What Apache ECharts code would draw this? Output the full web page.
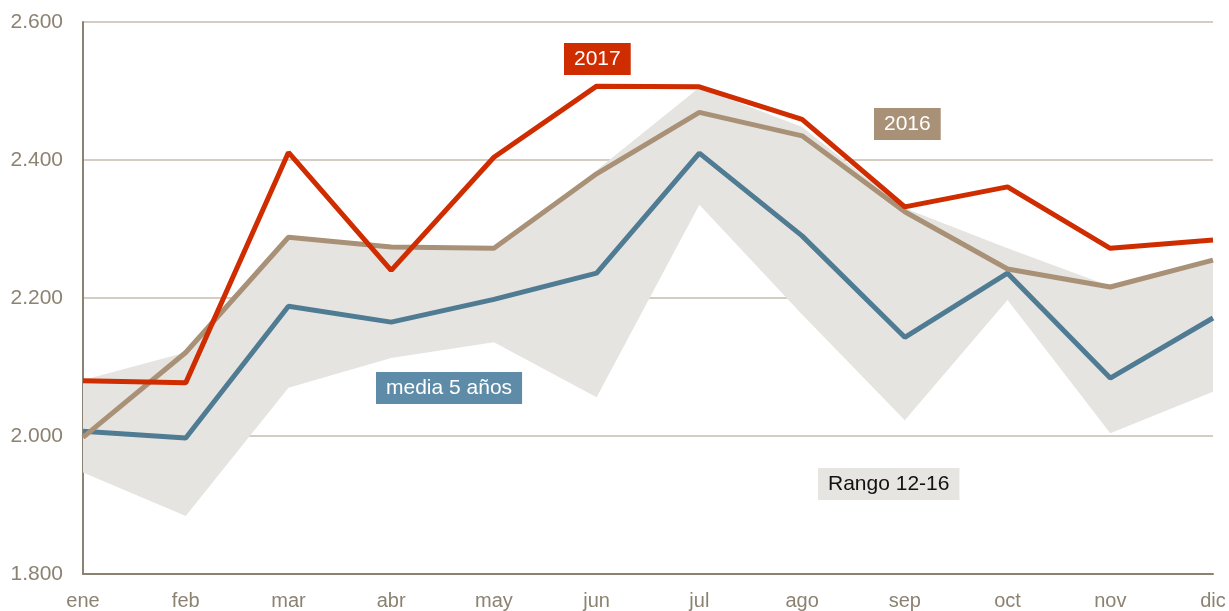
<!DOCTYPE html>
<html>
<head>
<meta charset="utf-8">
<script src="https://cdn.jsdelivr.net/npm/echarts@6/dist/echarts.min.js"></script>
<style>
  html, body { margin: 0; padding: 0; background: #fff; }
  #main { width: 1229px; height: 611px; }
</style>
</head>
<body>
<div id="main"></div>
<script>
var months = ['ene', 'feb', 'mar', 'abr', 'may', 'jun', 'jul', 'ago', 'sep', 'oct', 'nov', 'dic'];
var y2017 = [2080, 2077, 2411, 2240, 2404, 2507, 2506, 2459, 2332, 2361, 2272, 2284];
var y2016 = [1998, 2121, 2288, 2274, 2272, 2380, 2469, 2435, 2325, 2242, 2216, 2255];
var media5 = [2007, 1997, 2188, 2165, 2198, 2236, 2410, 2290, 2143, 2236, 2084, 2171];
var rangoMin = [1947, 1884, 2070, 2113, 2136, 2056, 2335, 2176, 2023, 2197, 2004, 2064];
var rangoMax = [2081, 2121, 2289, 2275, 2273, 2385, 2505, 2448, 2330, 2272, 2217, 2256];

window.onload = function () {
    var myChart = echarts.init(document.getElementById('main'));
    var font = 'Liberation Sans, Arial, sans-serif';
    var rangoDiff = rangoMax.map(function (v, i) { return v - rangoMin[i]; });

    function tag(text, left, top, bg, color) {
        return {
            type: 'text',
            left: left,
            top: top,
            z: 100,
            style: {
                text: text,
                fill: color,
                font: '21px ' + font,
                backgroundColor: bg,
                padding: [6, 10, 5, 10]
            }
        };
    }

    var option = {
        animation: false,
        grid: { left: 83, right: 16, top: 22, bottom: 37 },
        xAxis: {
            type: 'category',
            data: months,
            boundaryGap: false,
            axisLine: { lineStyle: { color: '#8c8272', width: 2 } },
            axisTick: { show: false },
            axisLabel: { color: '#8c8272', fontSize: 20, fontFamily: font, margin: 17 },
            splitLine: { show: false }
        },
        yAxis: {
            type: 'value',
            min: 1800,
            max: 2600,
            interval: 200,
            axisLine: { show: true, lineStyle: { color: '#8c8272', width: 2 } },
            axisTick: { show: false },
            axisLabel: {
                color: '#8c8272', fontSize: 21, fontFamily: font, margin: 20,
                formatter: function (v) {
                    var s = String(v);
                    return s.slice(0, s.length - 3) + '.' + s.slice(-3);
                }
            },
            splitLine: { lineStyle: { color: '#c4bdb0', width: 1.5 } }
        },
        graphic: [
            tag('2017', 564, 43, '#cf2c00', '#ffffff'),
            tag('2016', 874, 108, '#a89177', '#ffffff'),
            tag('media 5 años', 376, 372, '#5e8ca8', '#ffffff'),
            tag('Rango 12-16', 818, 468, '#e6e5e1', '#111111')
        ],
        series: [
            {
                name: 'min', type: 'line', stack: 'rango', data: rangoMin,
                symbol: 'none', lineStyle: { opacity: 0 }, silent: true
            },
            {
                name: 'Rango 12-16', type: 'line', stack: 'rango', data: rangoDiff,
                symbol: 'none', lineStyle: { opacity: 0 },
                areaStyle: { color: '#e6e4e0', opacity: 1 }, silent: true
            },
            {
                name: 'media 5 años', type: 'line', data: media5, symbol: 'none',
                lineStyle: { color: '#4f7b93', width: 5 }
            },
            {
                name: '2016', type: 'line', data: y2016, symbol: 'none',
                lineStyle: { color: '#a89177', width: 5 }
            },
            {
                name: '2017', type: 'line', data: y2017, symbol: 'none',
                lineStyle: { color: '#cf2c00', width: 5 }
            }
        ]
    };
    myChart.setOption(option);
};
</script>
</body>
</html>
